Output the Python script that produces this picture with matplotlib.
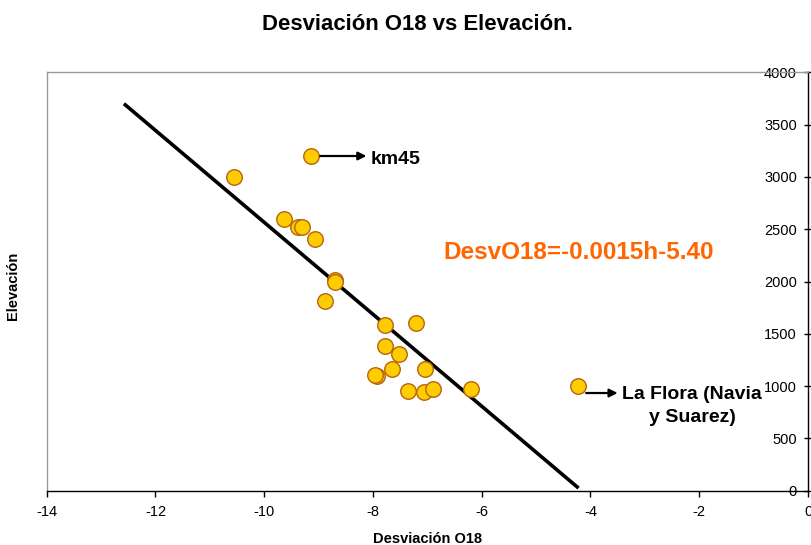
import matplotlib
matplotlib.use("Agg")
import matplotlib.pyplot as plt

plt.rcParams['font.family'] = ['Liberation Sans', 'DejaVu Sans']

# Data
desv_o18 = [-9.14, -10.55, -9.64, -9.38, -9.30, -9.07, -8.69, -8.70, -8.88,
            -7.78, -7.20, -7.78, -7.52, -7.65, -7.04, -7.93, -7.96,
            -7.35, -7.06, -6.89, -6.20, -4.23]
elevacion = [3200, 3000, 2600, 2520, 2520, 2410, 2010, 2000, 1810,
             1585, 1605, 1385, 1305, 1165, 1165, 1100, 1105,
             950, 945, 970, 970, 1000]

fit_x = [-12.58, -4.22]
fit_h = [3700, 25]

x_ticks = [-14, -12, -10, -8, -6, -4, -2, 0]
y_ticks = [0, 500, 1000, 1500, 2000, 2500, 3000, 3500, 4000]

title = "Desviación O18 vs Elevación."
x_label = "Desviación O18"
y_label = "Elevación"
equation = "DesvO18=-0.0015h-5.40"

fig = plt.figure(figsize=(8.12, 5.45), dpi=100)
ax = fig.add_axes([0.0575, 0.0996, 0.9376, 0.7677])

ax.plot(fit_x, fit_h, color='black', lw=2.6, solid_capstyle='butt', zorder=2)
ax.scatter(desv_o18, elevacion, s=125, facecolor='#FFCC00', edgecolor='#B5650D',
           linewidths=1.0, zorder=3)

ax.set_xlim(-14, 0)
ax.set_ylim(0, 4000)
ax.set_xticks(x_ticks)
ax.set_yticks(y_ticks)
ax.set_xticklabels([str(v) for v in x_ticks])

# spines
ax.spines['top'].set_color('#999999')
ax.spines['left'].set_color('#999999')
ax.spines['bottom'].set_color('black')
ax.spines['right'].set_color('black')
for s in ax.spines.values():
    s.set_linewidth(1.0)

ax.yaxis.tick_right()
ax.tick_params(axis='y', direction='inout', length=6, width=1, pad=-11,
               labelsize=10.5, colors='black')
for lab in ax.get_yticklabels():
    lab.set_horizontalalignment('right')
ax.tick_params(axis='x', direction='out', length=4, width=1, labelsize=10.5, pad=6)

ax.set_xlabel(x_label, fontsize=10.5, fontweight='bold', labelpad=10)
ax.yaxis.set_label_position('left')
ax.set_ylabel(y_label, fontsize=10.5, fontweight='bold')
ax.yaxis.set_label_coords(-0.035, 0.49)

fig.suptitle(title, x=0.514, y=0.975, fontsize=15.9, fontweight='bold')

# annotations
ax.annotate("", xy=(-8.12, 3200), xytext=(-8.97, 3200),
            arrowprops=dict(arrowstyle='-|>', color='black', lw=1.6, mutation_scale=12,
                            shrinkA=0, shrinkB=0))
ax.text(-8.05, 3170, "km45", fontsize=14, fontweight='bold', ha='left', va='center')

ax.annotate("", xy=(-3.50, 934), xytext=(-4.08, 934),
            arrowprops=dict(arrowstyle='-|>', color='black', lw=1.6, mutation_scale=12,
                            shrinkA=0, shrinkB=0))
ax.text(-2.13, 810, "La Flora (Navia\ny Suarez)", fontsize=14, fontweight='bold',
        ha='center', va='center', multialignment='center', linespacing=1.5)

ax.text(-4.21, 2282, equation, fontsize=17.5, fontweight='bold', color='#FF6600',
        ha='center', va='center')

fig.savefig("out.png", dpi=100)
